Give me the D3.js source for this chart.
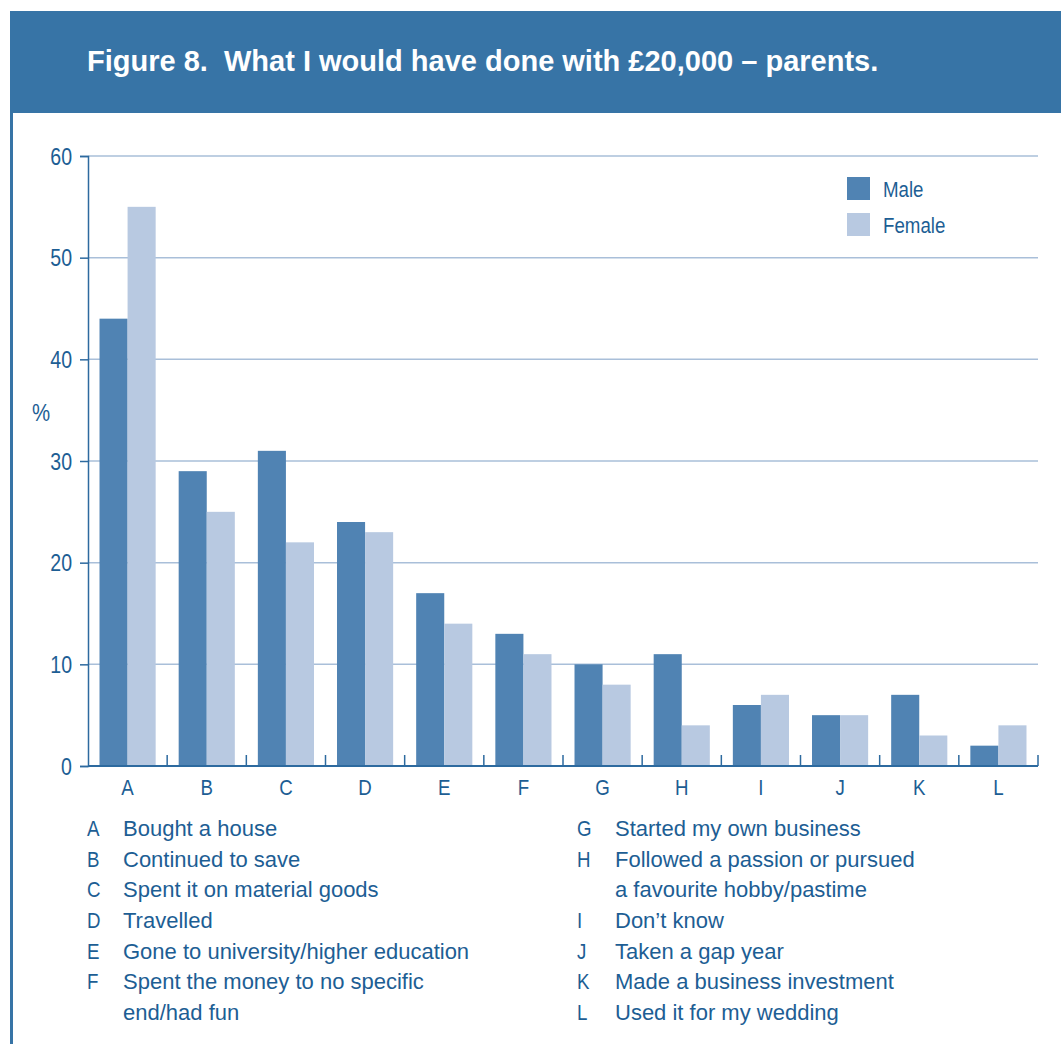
<!DOCTYPE html>
<html>
<head>
<meta charset="utf-8">
<script src="https://cdn.jsdelivr.net/npm/d3@7"></script>
<style>
  html, body { margin: 0; padding: 0; background: #fff; }
  svg { display: block; }
  .narrow { font-family: "Liberation Sans Narrow", "Liberation Sans", Arial, sans-serif; }
  .body { font-family: "Liberation Sans", Arial, Helvetica, sans-serif; }
</style>
</head>
<body>
<svg id="chart" width="1061" height="1044"></svg>
<script>
// Survey responses: what parents would have done with £20,000 (% of respondents)
const categories = ["A", "B", "C", "D", "E", "F", "G", "H", "I", "J", "K", "L"];
const seriesNames = ["Male", "Female"];
const maleValues   = [44, 29, 31, 24, 17, 13, 10, 11, 6, 5, 7, 2];
const femaleValues = [55, 25, 22, 23, 14, 11, 8, 4, 7, 5, 3, 4];
const yTicks = [0, 10, 20, 30, 40, 50, 60];
const keyLeft = [
  ["A", ["Bought a house"]],
  ["B", ["Continued to save"]],
  ["C", ["Spent it on material goods"]],
  ["D", ["Travelled"]],
  ["E", ["Gone to university/higher education"]],
  ["F", ["Spent the money to no specific", "end/had fun"]]
];
const keyRight = [
  ["G", ["Started my own business"]],
  ["H", ["Followed a passion or pursued", "a favourite hobby/pastime"]],
  ["I", ["Don\u2019t know"]],
  ["J", ["Taken a gap year"]],
  ["K", ["Made a business investment"]],
  ["L", ["Used it for my wedding"]]
];

const colors = { Male: "#5083b3", Female: "#b8c9e1" };
const textColor = "#1d5e94";
const frameColor = "#3774a6";
const axisColor = "#2d6a9f";
const squeeze = 0.85; // horizontal compression for the condensed label face

const svg = d3.select("#chart");

// Condensed text: positioned by translate, narrowed by a horizontal scale
function narrowText(parent, px, py, str, size, anchor) {
  return parent.append("text").attr("class", "narrow")
    .attr("transform", `translate(${px},${py}) scale(${squeeze},1)`)
    .attr("text-anchor", anchor || "start")
    .attr("fill", textColor).attr("font-size", size).text(str);
}

// Header band and left frame rule
svg.append("rect").attr("x", 10).attr("y", 11).attr("width", 1051).attr("height", 102)
  .attr("fill", frameColor);
svg.append("rect").attr("x", 10).attr("y", 113).attr("width", 3).attr("height", 931)
  .attr("fill", frameColor);
svg.append("text").attr("class", "body")
  .attr("x", 87).attr("y", 71)
  .attr("fill", "#fff").attr("font-size", 29).attr("font-weight", "bold")
  .attr("xml:space", "preserve")
  .text("Figure 8.  What I would have done with \u00a320,000 \u2013 parents.");

// Plot geometry
const plotLeft = 88, plotRight = 1038, plotTop = 156, plotBottom = 766;

const x = d3.scaleBand().domain(categories).range([plotLeft, plotRight]).paddingInner(0).paddingOuter(0);
const xSub = d3.scaleBand().domain(seriesNames).range([0, x.bandwidth()]).paddingInner(0).paddingOuter(0.41);
const y = d3.scaleLinear().domain([0, 60]).range([plotBottom, plotTop]);

// Gridlines
svg.append("g").selectAll("line").data(yTicks.filter(d => d > 0)).join("line")
  .attr("x1", plotLeft).attr("x2", plotRight)
  .attr("y1", d => y(d)).attr("y2", d => y(d))
  .attr("stroke", "#a9bfd9").attr("stroke-width", 1.5);

// Bars
const rows = categories.map((c, i) => ({ cat: c, values: [
  { key: "Male", value: maleValues[i] },
  { key: "Female", value: femaleValues[i] }
]}));
const groups = svg.append("g").selectAll("g").data(rows).join("g")
  .attr("transform", d => `translate(${x(d.cat)},0)`);
groups.selectAll("rect").data(d => d.values).join("rect")
  .attr("x", d => xSub(d.key))
  .attr("width", xSub.bandwidth())
  .attr("y", d => y(d.value))
  .attr("height", d => y(0) - y(d.value))
  .attr("fill", d => colors[d.key]);

// Y axis
const yAxis = svg.append("g").attr("transform", `translate(${plotLeft},0)`)
  .call(d3.axisLeft(y).tickValues(yTicks).tickSize(8).tickPadding(8));
yAxis.select(".domain").attr("stroke", axisColor).attr("stroke-width", 1.5);
yAxis.selectAll(".tick line").attr("stroke", axisColor).attr("stroke-width", 1.5);
yAxis.selectAll(".tick text").attr("class", "narrow").attr("fill", textColor)
  .attr("font-size", 23).attr("dy", "0.36em")
  .attr("x", -16 / squeeze).attr("transform", `scale(${squeeze},1)`);
narrowText(svg, 41, 421, "%", 24, "middle");

// X axis: baseline plus short upward ticks at band boundaries
const xg = svg.append("g");
xg.append("line").attr("x1", plotLeft).attr("x2", plotRight).attr("y1", plotBottom).attr("y2", plotBottom)
  .attr("stroke", axisColor).attr("stroke-width", 2);
xg.selectAll("line.sep").data(categories.slice(1).concat(["end"])).join("line")
  .attr("class", "sep")
  .attr("x1", d => d === "end" ? plotRight : x(d))
  .attr("x2", d => d === "end" ? plotRight : x(d))
  .attr("y1", plotBottom).attr("y2", plotBottom - 11)
  .attr("stroke", axisColor).attr("stroke-width", 1.5);
categories.forEach(c => narrowText(xg, x(c) + x.bandwidth() / 2, 795, c, 22, "middle"));

// Legend
const legend = svg.append("g");
seriesNames.forEach((s, i) => {
  legend.append("rect").attr("x", 847).attr("y", 177 + i * 36).attr("width", 23).attr("height", 23)
    .attr("fill", colors[s]);
  narrowText(legend, 883, 197 + i * 36, s, 22);
});

// Category key
function drawKey(entries, letterX, textX) {
  let line = 0;
  const lh = 30.67, y0 = 836;
  entries.forEach(([letter, lines]) => {
    narrowText(svg, letterX, y0 + line * lh, letter, 22);
    lines.forEach((t, j) => {
      svg.append("text").attr("class", "body").attr("x", textX).attr("y", y0 + (line + j) * lh)
        .attr("fill", textColor).attr("font-size", 22).text(t);
    });
    line += lines.length;
  });
}
drawKey(keyLeft, 87, 123);
drawKey(keyRight, 577, 615);
</script>
</body>
</html>
